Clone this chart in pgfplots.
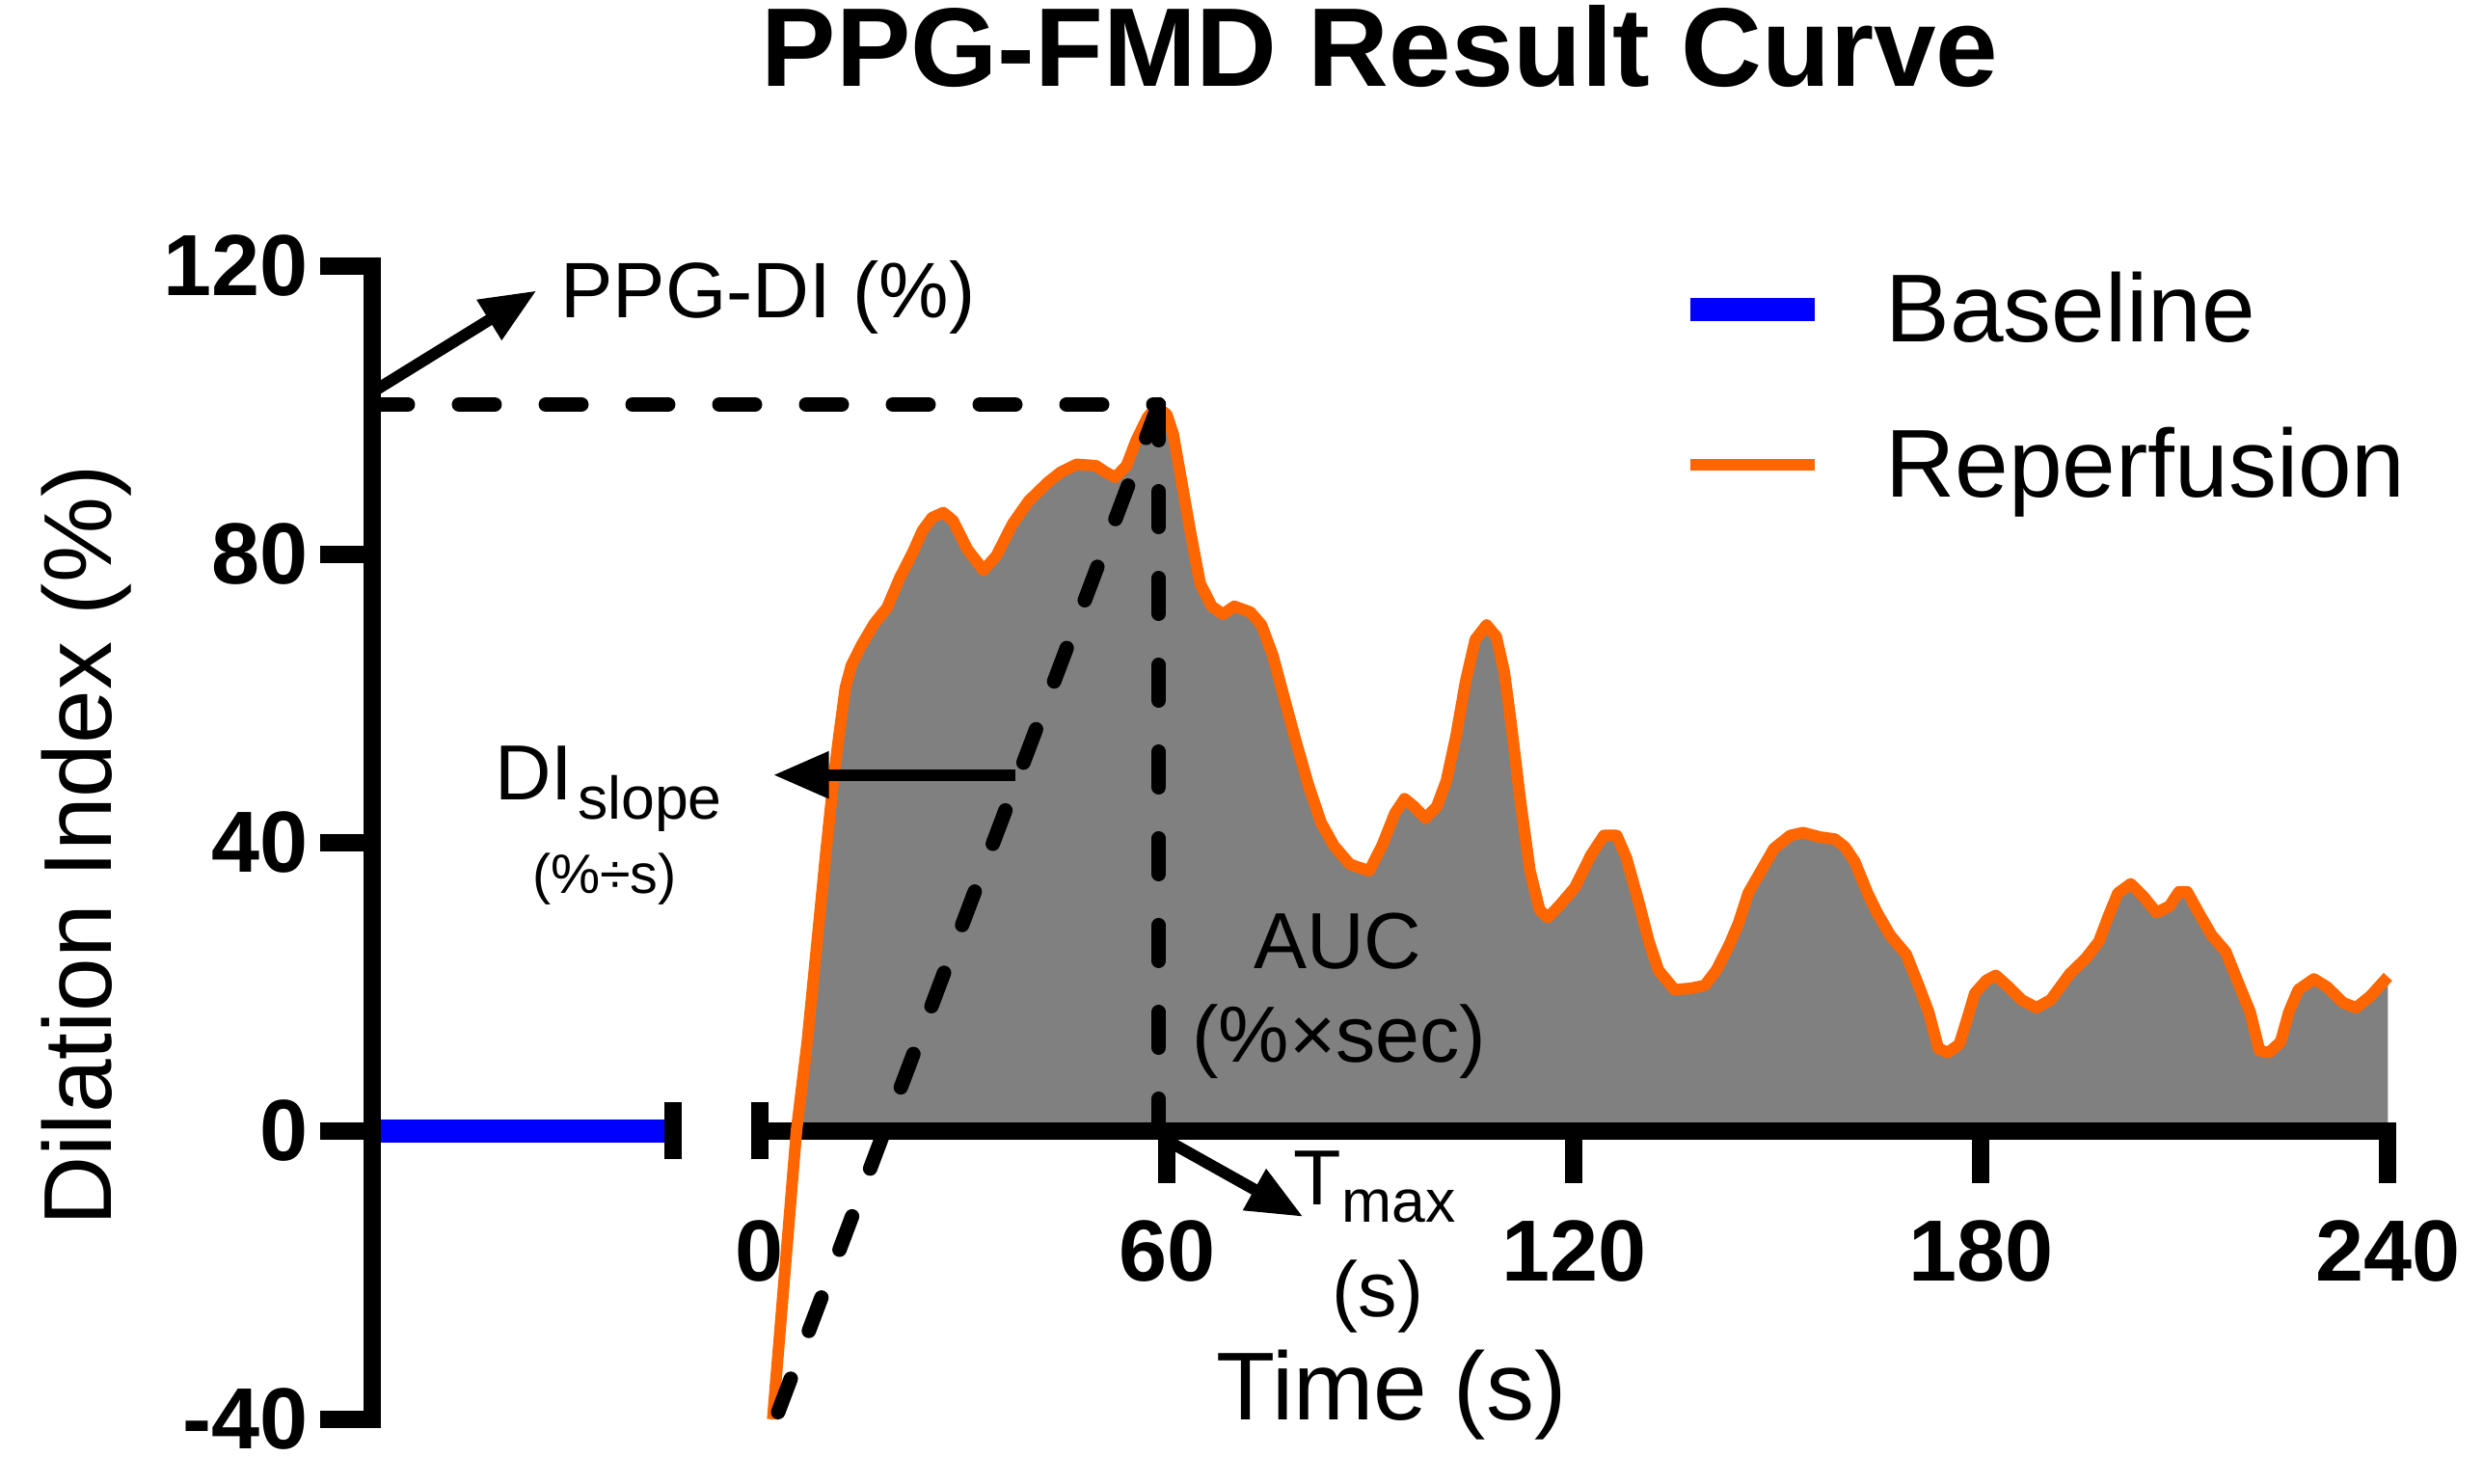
\documentclass[border=0pt]{standalone}
\usepackage{fontspec}
\setmainfont{Liberation Sans}
\usepackage{pgfplots}
\pgfplotsset{compat=1.18}
\usepackage{pgfplotstable}
\usetikzlibrary{arrows.meta}
\definecolor{orangeR}{RGB}{255,102,0}
\definecolor{blueR}{RGB}{0,0,255}
\definecolor{grayF}{RGB}{128,128,128}
\newcommand\fs[1]{\fontsize{#1}{#1}\selectfont}
\tikzset{
  dashln/.style={black, line width=3pt, line cap=round, dash pattern=on 7.4pt off 10.6pt},
  arr/.style={black, line width=2.4pt, -{Triangle[length=11.6pt,width=9.2pt]}},
}
\pgfplotstableread{
t v
1.9 -40
5.4 0
7.0 12.4
9.8 39.2
10.95 49.5
11.66 54.8
12.61 61.5
13.5 64.6
14.93 67.3
16.87 70.4
18.76 72.6
20.61 76.7
22.56 80.3
23.98 83.3
25.4 85.1
27.05 85.8
28.47 84.7
30.6 80.7
32.98 77.8
34.87 79.8
37.24 84.2
39.62 87.4
42.46 90.0
44.35 91.4
46.72 92.5
49.57 92.3
50.99 91.4
52.41 90.7
54.06 92.3
55.48 95.8
57.14 99.0
58.5 100.5
59.99 99.4
60.94 96.7
62.36 89.1
63.5 83.0
64.9 76.0
66.62 72.8
68.27 71.7
69.94 72.8
72.31 72.0
73.96 70.2
75.62 66.0
77.04 61.0
78.93 54.4
80.84 48.1
82.73 42.8
84.62 39.6
86.99 37.0
89.84 36.1
91.73 39.6
93.63 44.1
95.05 46.1
96.47 45.0
98.12 43.4
99.79 45.0
101.21 48.6
102.63 54.8
104.05 62.4
105.47 68.2
107.14 70.2
108.56 68.6
109.74 63.7
110.69 57.0
112.11 45.9
113.53 36.1
114.95 30.7
116.13 29.6
117.8 31.2
120.16 33.8
122.53 38.3
124.42 41.0
126.32 41.0
127.74 37.9
129.64 31.5
131.06 26.3
132.48 22.3
134.85 19.6
137.2 19.8
139.3 20.2
141.0 22.3
142.9 25.8
144.3 28.9
145.7 33.0
147.6 36.1
149.5 39.2
151.9 41.0
153.8 41.4
156.2 40.8
158.5 40.5
159.96 39.4
161.4 37.4
163.3 33.0
164.7 30.3
166.6 27.2
169.0 24.5
170.9 20.0
172.3 16.5
173.7 11.5
175.1 10.9
176.8 12.0
178.0 15.6
179.1 19.1
180.8 20.9
182.2 21.6
184.1 20.0
186.0 18.2
188.2 17.1
190.3 18.2
193.1 21.8
195.5 24.0
197.4 26.3
198.8 29.8
200.2 33.0
202.1 34.3
204.0 32.5
205.9 30.3
207.8 31.2
209.2 33.2
210.4 33.2
212.1 30.3
214.0 27.2
216.1 24.9
217.8 20.9
219.7 16.5
221.1 11.1
222.5 10.9
224.2 12.4
225.4 16.5
226.8 19.6
229.1 21.1
231.0 20.0
233.4 17.8
235.3 17.1
237.4 18.7
240.0 21.4
}\reperf
\begin{document}
\begin{tikzpicture}
\begin{axis}[name=A, scale only axis, width=418.08pt, height=239.2pt,
  xmin=-57.14, xmax=240, ymin=-40, ymax=120,
  axis y line*=left, axis x line=none,
  xtick=\empty,
  ytick={-40,0,40,80,120}, yticklabels={-40,0,40,80,120},
  tick align=outside, major tick length=10.8pt,
  tick style={black, line width=3.6pt, line cap=butt},
  axis line style={line width=3.6pt, line cap=rect},
  yticklabel style={font=\fs{18}\bfseries, inner sep=0pt, xshift=-2.2pt},
  ylabel={Dilation Index (\%)},
  ylabel style={at={(axis description cs:-0.1296,0.4975)}, anchor=base, font=\fs{20}, inner sep=0pt},
  title={PPG-FMD Result Curve},
  title style={at={(axis description cs:0.5,1)}, anchor=base, yshift=31.2pt, font=\fs{23.2}\bfseries, inner sep=0pt},
  axis on top,
]
\addplot[fill=grayF, draw=none, restrict x to domain=5.4:240] table[x=t,y=v]{\reperf} \closedcycle;
\coordinate (O) at (axis cs:0,0);
\end{axis}
\begin{axis}[at={(O)}, anchor=south west, scale only axis, width=337.68pt, height=179.4pt,
  xmin=0, xmax=240, ymin=0, ymax=120, clip=false, no markers,
  axis x line*=bottom, axis y line=none,
  xtick={60,120,180,240}, xticklabels={60,120,180,240},
  extra x ticks={0}, extra x tick labels={0},
  extra x tick style={tick align=center, major tick length=11.8pt, xticklabel style={yshift=-4.9pt}},
  ytick=\empty,
  tick align=outside, major tick length=10.8pt,
  tick style={black, line width=3.6pt, line cap=butt},
  axis line style={line width=3.6pt, line cap=rect},
  xticklabel style={font=\fs{18}\bfseries, inner sep=0pt, yshift=-7.6pt},
  xlabel={Time (s)},
  xlabel style={at={(axis description cs:0.388,-0.3344)}, anchor=base, font=\fs{20}, inner sep=0pt},
  legend style={draw=none, fill=none, at={(axis description cs:0.5647,0.9928)}, anchor=north west,
    inner sep=0pt, outer sep=0pt, row sep=16.2pt, column sep=12.2pt, font=\fs{20},
    nodes={inner sep=0pt, outer sep=0pt}},
  legend cell align=left,
  legend image code/.code={\path[draw=none,fill=none] (0pt,-5pt) rectangle (25.8pt,5pt); \draw[#1] (0pt,0.2pt) -- (25.8pt,0.2pt);},
]
\addplot[blueR, line width=4.8pt, line cap=butt] coordinates {(-55.86,0) (-12.79,0)};
\addlegendentry{\vphantom{p}Baseline}
\addplot[orangeR, line width=2.4pt, line join=round] table[x=t,y=v]{\reperf};
\addlegendentry{Reperfusion}
\addplot[dashln, forget plot] coordinates {(-57.14,100.8) (58.8,100.8)};
\addplot[dashln, forget plot] coordinates {(58.8,100.8) (58.8,0)};
\addplot[dashln, forget plot] coordinates {(58.8,100.8) (2.1,-40.5)};
\draw[black, line width=3.6pt] (axis cs:-12.79,-3.95) -- (axis cs:-12.79,3.95);
\draw[arr] (axis cs:-57.14,102.5) -- (axis cs:-32.9,116.6);
\draw[arr] (axis cs:37.7,49.4) -- (axis cs:1.95,49.4);
\draw[arr] (axis cs:60,-1.3) -- (axis cs:80.1,-11.9);
\node[anchor=base west, inner sep=0pt, font=\fs{16.3}] at (axis cs:-29.5,112.8) {PPG-DI (\%)};
\node[anchor=base west, inner sep=0pt, font=\fs{16.2}] at (axis cs:-39.2,45.9) {DI\hspace{1pt}\raisebox{-4pt}{\fs{12.5}slope}};
\node[anchor=base, inner sep=0pt, font=\fs{11.5}] at (axis cs:-22.9,33.0) {(\%÷s)};
\node[anchor=base, inner sep=0pt, font=\fs{16.5}] at (axis cs:85.2,22.5) {AUC};
\node[anchor=base, inner sep=0pt, font=\fs{16.5}] at (axis cs:85.4,9.5) {(\%×sec)};
\node[anchor=base west, inner sep=0pt, font=\fs{16.2}] at (axis cs:78.6,-10.3) {T\raisebox{-3.6pt}{\fs{12.5}max}};
\node[anchor=base, inner sep=0pt, font=\fs{16.2}] at (axis cs:91.1,-25.7) {(s)};
\path (axis cs:-112.01,156.92) rectangle (axis cs:254.02,-48.96);
\end{axis}
\end{tikzpicture}
\end{document}
